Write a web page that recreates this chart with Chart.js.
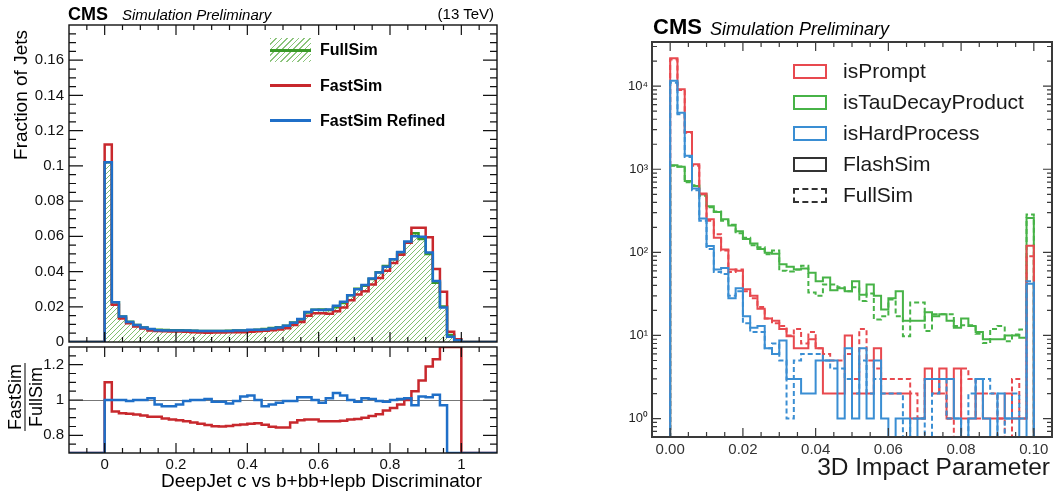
<!DOCTYPE html>
<html>
<head>
<meta charset="utf-8">
<title>FastSim / FlashSim comparison</title>
<script src="https://cdn.jsdelivr.net/npm/chart.js@4.4.1/dist/chart.umd.min.js"></script>
<style>
  body { margin: 0; background: #fff; font-family: "Liberation Sans", Arial, Helvetica, sans-serif; }
  #page { position: relative; width: 1053px; height: 498px; overflow: hidden; background: #fff; }
  canvas { position: absolute; }
  .txt { position: absolute; white-space: nowrap; color: #000; line-height: 20px; }
  .leg-line { position: absolute; height: 3px; }
  .ip-box { position: absolute; width: 34px; height: 15px; box-sizing: border-box; border: 2px solid; }
  .ip-leg { position: absolute; left: 843px; font-size: 21px; line-height: 24px; color: #1a1a1a; white-space: nowrap; }
</style>
</head>
<body>
<div id="page">
  <canvas id="discUpper" width="510" height="352" style="left:0;top:0"></canvas>
  <canvas id="discRatio" width="510" height="158" style="left:0;top:340px"></canvas>
  <canvas id="ipChart" width="453" height="498" style="left:600px;top:0"></canvas>

  <!-- left panel texts -->
  <div class="txt" style="left:68px;top:4px;font-size:18px;font-weight:bold">CMS</div>
  <div class="txt" style="left:122px;top:5px;font-size:15px;font-style:italic">Simulation Preliminary</div>
  <div class="txt" style="right:559px;top:4px;font-size:15px">(13 TeV)</div>
  <div class="txt" style="left:11px;top:230px;width:200px;text-align:right;font-size:19px;transform-origin:0 0;transform:rotate(-90deg)">Fraction of Jets</div>
  <div style="position:absolute;left:25px;top:397px;transform:translate(-50%,-50%) rotate(-90deg);display:inline-flex;flex-direction:column;font-size:18px;line-height:18px;white-space:nowrap">
    <div style="text-align:center;border-bottom:1.5px solid #000;padding:0 1px 1px">FastSim</div>
    <div style="text-align:center;padding-top:1px">FullSim</div>
  </div>
  <div class="txt" style="right:571px;top:471px;font-size:19px">DeepJet c vs b+bb+lepb Discriminator</div>

  <div style="position:absolute;left:270px;top:38px;width:41px;height:24px;background:repeating-linear-gradient(135deg,#8cc47c 0 1px,transparent 1px 4px)"></div>
  <div class="leg-line" style="left:270px;top:49px;width:41px;background:#3a9a28"></div>
  <div class="leg-line" style="left:270px;top:84px;width:41px;background:#c8282d"></div>
  <div class="leg-line" style="left:270px;top:119px;width:41px;background:#1f6fc8"></div>
  <div class="txt" style="left:320px;top:40px;font-size:16px;font-weight:bold">FullSim</div>
  <div class="txt" style="left:320px;top:76px;font-size:16px;font-weight:bold">FastSim</div>
  <div class="txt" style="left:320px;top:111px;font-size:16px;font-weight:bold">FastSim Refined</div>

  <!-- right panel texts -->
  <div class="txt" style="left:653px;top:15px;font-size:22px;line-height:24px;font-weight:bold">CMS</div>
  <div class="txt" style="left:710px;top:17px;font-size:18px;line-height:24px;font-style:italic">Simulation Preliminary</div>
  <div class="ip-box" style="left:793px;top:64px;border-color:#e8494f"></div>
  <div class="ip-box" style="left:793px;top:95px;border-color:#47b347"></div>
  <div class="ip-box" style="left:793px;top:126px;border-color:#3a8ed3"></div>
  <div class="ip-box" style="left:793px;top:157px;border-color:#333"></div>
  <div class="ip-box" style="left:793px;top:188px;border-color:#333;border-style:dashed"></div>
  <div class="ip-leg" style="top:59px">isPrompt</div>
  <div class="ip-leg" style="top:90px">isTauDecayProduct</div>
  <div class="ip-leg" style="top:121px">isHardProcess</div>
  <div class="ip-leg" style="top:152px">FlashSim</div>
  <div class="ip-leg" style="top:183px">FullSim</div>
  <div class="txt" style="right:3px;top:454px;font-size:24.5px;line-height:26px;color:#1a1a1a">3D Impact Parameter</div>
</div>

<script>
// ---- left panel: DeepJet c vs b discriminator, 50 bins in [0, 1] ----
const fullSim = [
  0.1020, 0.0226, 0.0145, 0.0115, 0.0096, 0.0083, 0.0073, 0.0069, 0.0068, 0.0067,
  0.0067, 0.0066, 0.0064, 0.0063, 0.0062, 0.0063, 0.0063, 0.0064, 0.0065, 0.0065,
  0.0067, 0.0070, 0.0074, 0.0079, 0.0084, 0.0092, 0.0111, 0.0128, 0.0167, 0.0183,
  0.0185, 0.0182, 0.0198, 0.0222, 0.0266, 0.0303, 0.0320, 0.0358, 0.0396, 0.0431,
  0.0470, 0.0508, 0.0564, 0.0618, 0.0585, 0.0500, 0.0337, 0.0202, 0.0040, 0.0012
];
const fastSim = [
  0.1122, 0.0211, 0.0134, 0.0106, 0.0088, 0.0076, 0.0066, 0.0062, 0.0061, 0.0060,
  0.0059, 0.0058, 0.0056, 0.0054, 0.0053, 0.0054, 0.0054, 0.0055, 0.0056, 0.0056,
  0.0058, 0.0061, 0.0064, 0.0067, 0.0071, 0.0078, 0.0097, 0.0113, 0.0149, 0.0163,
  0.0163, 0.0160, 0.0174, 0.0196, 0.0237, 0.0270, 0.0288, 0.0326, 0.0364, 0.0405,
  0.0449, 0.0495, 0.0564, 0.0649, 0.0649, 0.0595, 0.0414, 0.0285, 0.0058, 0.0015
];
const fastSimRefined = [
  0.1020, 0.0226, 0.0145, 0.0114, 0.0096, 0.0083, 0.0074, 0.0067, 0.0066, 0.0065,
  0.0065, 0.0066, 0.0064, 0.0063, 0.0062, 0.0062, 0.0062, 0.0063, 0.0065, 0.0066,
  0.0069, 0.0070, 0.0071, 0.0077, 0.0083, 0.0092, 0.0110, 0.0130, 0.0170, 0.0183,
  0.0182, 0.0184, 0.0206, 0.0228, 0.0266, 0.0300, 0.0323, 0.0360, 0.0394, 0.0427,
  0.0470, 0.0511, 0.0570, 0.0600, 0.0597, 0.0508, 0.0347, 0.0196, 0.0030, 0.0010
];
// ratio panel (FastSim / FullSim)
const ratioFastSim = [
  1.10, 0.935, 0.925, 0.922, 0.918, 0.912, 0.905, 0.905, 0.895, 0.89,
  0.885, 0.88, 0.872, 0.865, 0.858, 0.852, 0.85, 0.853, 0.858, 0.862,
  0.865, 0.868, 0.86, 0.848, 0.845, 0.845, 0.873, 0.885, 0.89, 0.89,
  0.88, 0.88, 0.88, 0.882, 0.89, 0.892, 0.90, 0.91, 0.92, 0.94,
  0.955, 0.975, 1.00, 1.05, 1.11, 1.19, 1.23, 1.45, 1.6, 2.5
];
const ratioRefined = [
  1.00, 1.00, 1.00, 0.995, 1.00, 1.00, 1.01, 0.975, 0.965, 0.965,
  0.975, 0.995, 1.00, 1.00, 1.005, 0.99, 0.99, 0.98, 0.995, 1.02,
  1.025, 1.00, 0.965, 0.975, 0.985, 0.995, 0.995, 1.015, 1.015, 1.00,
  0.985, 1.01, 1.04, 1.025, 1.00, 0.99, 1.01, 1.005, 0.995, 0.99,
  1.00, 1.005, 1.01, 0.97, 1.02, 1.015, 1.03, 0.97, 0, 0
];
const discYTicks = [0, 0.02, 0.04, 0.06, 0.08, 0.1, 0.12, 0.14, 0.16];
const ratioYTicks = [0.8, 1, 1.2];
const discXTicks = [0, 0.2, 0.4, 0.6, 0.8, 1];

// ---- right panel: 3D impact parameter, 50 bins in [0, 0.1] ----
const promptFlash = [
  21600, 9200, 2800, 1150, 510, 250, 150, 108, 62, 60, 36, 30, 21, 16, 15, 12, 9.8,
  7, 7, 9, 7, 2, 2, 2, 10, 2, 2, 2, 7,
  2, 2, 2, 2, 1, 1, 4, 2, 4, 1, 4, 1, 1, 2, 1, 1, 1, 2, 1, 1,
  120
];
const promptFull = [
  21000, 9000, 2750, 1100, 500, 240, 165, 105, 58, 62, 34, 28, 22, 16, 14, 13, 10,
  12, 8, 11, 7, 6, 5, 5, 6, 3, 12, 5, 4, 3,
  3, 3, 3, 2, 1, 3, 3, 2, 1, 0, 4, 3, 1, 2, 2, 1, 0, 3, 1, 90
];
const tauFlash = [
  1120, 1070, 720, 630, 500, 360, 305, 250, 210, 180, 145, 128, 110, 99, 96, 72,
  67, 62, 64, 57, 45, 50, 35, 37, 34, 45, 31, 41, 30, 20.5,
  28, 34, 15, 15, 15, 19, 17, 18, 15, 12.4, 16, 13, 11, 9, 9, 9, 10, 10, 9.4, 260
];
const tauFull = [
  1100, 1080, 700, 640, 480, 350, 310, 240, 215, 170, 150, 122, 115, 95, 105, 60,
  59, 62, 69, 33, 30, 41, 41, 38, 34, 38, 26, 32,
  15.6, 17, 27, 17, 9.8, 25, 25, 11.3, 18, 18, 18, 13, 13.3, 13.3, 10.5, 8.1, 12, 13, 8.5, 10.3, 11.8, 285
];
const hardFlash = [
  11600, 4800, 1450, 585, 255, 119, 62, 65, 28, 37,
  17, 12.4, 13, 7, 6, 8.7, 3, 3, 2, 2, 5, 5, 5, 1, 7, 1, 7, 1, 5, 1,
  0, 1, 1, 0, 1, 3, 3, 3, 3, 1, 0, 1, 3, 1, 0, 2, 1, 1, 0, 42
];
const hardFull = [
  11000, 4600, 1400, 560, 240, 110, 58, 55, 30, 34,
  14, 11, 11, 7, 8, 5, 1,
  5, 6, 6, 6, 5, 4, 4, 3, 2, 5, 2, 3, 2,
  2, 2, 0, 1, 1, 0, 2, 3, 1, 1, 0, 2, 3, 3, 2, 0, 1, 2, 1, 45
];
const ipXTicks = [0, 0.02, 0.04, 0.06, 0.08, 0.1];
const ipYDecades = [1, 10, 100, 1000, 10000];

const RED = '#c8282d', GREEN = '#3a9a28', BLUE = '#1f6fc8';
const IP_RED = '#e8494f', IP_GREEN = '#47b347', IP_BLUE = '#3a8ed3';
const LOG_FLOOR = 0.3; // empty bins go below the axis minimum
const SUP = { '0': '\u2070', '1': '\u00b9', '2': '\u00b2', '3': '\u00b3', '4': '\u2074' };

Chart.defaults.font.family = '"Liberation Sans", Arial, Helvetica, sans-serif';
Chart.defaults.color = '#111';

// histogram outline as a polyline: each bin gives two points at its edges
function stepPoints(lo, hi, values, base, xFrom, xTo) {
  const w = (hi - lo) / values.length;
  const pts = [];
  if (xFrom !== undefined) pts.push({ x: xFrom, y: base });
  pts.push({ x: lo, y: base });
  values.forEach((v, i) => {
    pts.push({ x: lo + i * w, y: v });
    pts.push({ x: lo + (i + 1) * w, y: v });
  });
  pts.push({ x: hi, y: base });
  if (xTo !== undefined) pts.push({ x: xTo, y: base });
  return pts;
}
const clampRatio = arr => arr.map(v => Math.min(Math.max(v, 0.7), 1.3));
const logSafe = arr => arr.map(v => (v > 0 ? v : LOG_FLOOR));

function multiples(min, max, step) {
  const out = [];
  for (let k = Math.ceil(min / step - 1e-6); k <= Math.floor(max / step + 1e-6); k++) out.push(k * step);
  return out;
}
function logMinors(min, max) {
  const out = [];
  for (let d = Math.floor(Math.log10(min)); d <= Math.ceil(Math.log10(max)); d++) {
    for (let j = 2; j <= 9; j++) {
      const v = j * Math.pow(10, d);
      if (v >= min && v <= max) out.push(v);
    }
  }
  return out;
}

// ROOT-like frame: box plus inward ticks on all four sides
const FRAME = {
  discUpper: { lw: 1.4, color: '#111',
    x: { major: 0.2, minor: 0.05, majLen: 10, minLen: 5 },
    y: { major: 0.02, minor: 0.005, majLen: 14, minLen: 7 } },
  discRatio: { lw: 1.4, color: '#111', ref: 1,
    x: { major: 0.2, minor: 0.05, majLen: 10, minLen: 5 },
    y: { major: 0.2, minor: 0.05, majLen: 14, minLen: 7 } },
  ipChart: { lw: 2, color: '#3a3a3a',
    x: { major: 0.02, minor: 0.005, majLen: 9, minLen: 5 },
    y: { log: true, majLen: 9, minLen: 5 } }
};

const framePlugin = {
  id: 'rootFrame',
  beforeDatasetsDraw(chart) {
    const o = FRAME[chart.canvas.id];
    if (o.ref === undefined) return;
    const { ctx, chartArea: a } = chart;
    const y = Math.round(chart.scales.y.getPixelForValue(o.ref)) + 0.5;
    ctx.save();
    ctx.strokeStyle = '#777';
    ctx.lineWidth = 1;
    ctx.beginPath();
    ctx.moveTo(a.left, y);
    ctx.lineTo(a.right, y);
    ctx.stroke();
    ctx.restore();
  },
  afterDatasetsDraw(chart) {
    const o = FRAME[chart.canvas.id];
    const { ctx, chartArea: a } = chart;
    const xs = chart.scales.x, ys = chart.scales.y;
    ctx.save();
    ctx.strokeStyle = o.color;
    ctx.lineWidth = 1.2;
    ctx.beginPath();
    const xt = [[multiples(xs.min, xs.max, o.x.minor), o.x.minLen], [multiples(xs.min, xs.max, o.x.major), o.x.majLen]];
    xt.forEach(([vals, len]) => vals.forEach(v => {
      const p = xs.getPixelForValue(v);
      if (p < a.left + 1 || p > a.right - 1) return;
      ctx.moveTo(p, a.bottom); ctx.lineTo(p, a.bottom - len);
      ctx.moveTo(p, a.top); ctx.lineTo(p, a.top + len);
    }));
    const yt = o.y.log
      ? [[logMinors(ys.min, ys.max), o.y.minLen], [ipYDecades, o.y.majLen]]
      : [[multiples(ys.min, ys.max, o.y.minor), o.y.minLen], [multiples(ys.min, ys.max, o.y.major), o.y.majLen]];
    yt.forEach(([vals, len]) => vals.forEach(v => {
      const p = ys.getPixelForValue(v);
      if (p < a.top + 1 || p > a.bottom - 1) return;
      ctx.moveTo(a.left, p); ctx.lineTo(a.left + len, p);
      ctx.moveTo(a.right, p); ctx.lineTo(a.right - len, p);
    }));
    ctx.stroke();
    ctx.lineWidth = o.lw;
    ctx.strokeRect(a.left, a.top, a.right - a.left, a.bottom - a.top);
    ctx.restore();
  }
};

const fmt = v => String(Number(v.toFixed(2)));
const baseOptions = () => ({
  responsive: false,
  animation: false,
  events: [],
  elements: { point: { radius: 0 }, line: { tension: 0, borderJoinStyle: 'miter', capBezierPoints: false } },
  plugins: { legend: { display: false }, tooltip: { enabled: false } }
});
const noGrid = { grid: { display: false, drawTicks: false }, border: { display: false } };
// fixed axis size, no extra room for edge labels
const fixY = w => s => { s.width = w; s.paddingTop = 0; s.paddingBottom = 0; };
const fixX = h => s => { s.height = h; s.paddingLeft = 0; s.paddingRight = 0; };

document.addEventListener('DOMContentLoaded', () => {
  // hatched fill for FullSim
  const upperCanvas = document.getElementById('discUpper');
  const tile = document.createElement('canvas');
  tile.width = tile.height = 5;
  const tg = tile.getContext('2d');
  tg.strokeStyle = '#5fae4a';
  tg.lineWidth = 0.8;
  tg.beginPath();
  tg.moveTo(0, 5); tg.lineTo(5, 0);
  tg.moveTo(-2.5, 2.5); tg.lineTo(2.5, -2.5);
  tg.moveTo(2.5, 7.5); tg.lineTo(7.5, 2.5);
  tg.stroke();
  const hatch = upperCanvas.getContext('2d').createPattern(tile, 'repeat');

  new Chart(upperCanvas, {
    type: 'line',
    data: {
      datasets: [
        { label: 'FastSim Refined', data: stepPoints(0, 1, fastSimRefined, 0, -0.1, 1.1), borderColor: BLUE, borderWidth: 2.5, fill: false, order: 1 },
        { label: 'FastSim', data: stepPoints(0, 1, fastSim, 0, -0.1, 1.1), borderColor: RED, borderWidth: 2.5, fill: false, order: 2 },
        { label: 'FullSim', data: stepPoints(0, 1, fullSim, 0, -0.1, 1.1), borderColor: GREEN, borderWidth: 2.5, backgroundColor: hatch, fill: 'origin', order: 3 }
      ]
    },
    options: Object.assign(baseOptions(), {
      layout: { padding: { top: 25, right: 13, left: 0, bottom: 0 } },
      scales: {
        x: Object.assign({ type: 'linear', min: -0.1, max: 1.1, ticks: { display: false }, afterFit: fixX(10) }, noGrid),
        y: Object.assign({ type: 'linear', min: 0, max: 0.18,
          afterBuildTicks: s => { s.ticks = discYTicks.map(v => ({ value: v })); },
          afterFit: fixY(69),
          ticks: { padding: 5, font: { size: 15 }, color: '#111', autoSkip: false, callback: v => fmt(v) } }, noGrid)
      }
    }),
    plugins: [framePlugin]
  });

  new Chart(document.getElementById('discRatio'), {
    type: 'line',
    data: {
      datasets: [
        { label: 'FastSim Refined', data: stepPoints(0, 1, clampRatio(ratioRefined), 0.7, -0.1, 1.1), borderColor: BLUE, borderWidth: 2.5, fill: false, order: 1 },
        { label: 'FastSim', data: stepPoints(0, 1, clampRatio(ratioFastSim), 0.7, -0.1, 1.1), borderColor: RED, borderWidth: 2.5, fill: false, order: 2 }
      ]
    },
    options: Object.assign(baseOptions(), {
      layout: { padding: { top: 7, right: 13, left: 0, bottom: 0 } },
      scales: {
        x: Object.assign({ type: 'linear', min: -0.1, max: 1.1,
          afterBuildTicks: s => { s.ticks = discXTicks.map(v => ({ value: v })); },
          afterFit: fixX(45),
          ticks: { padding: 3, font: { size: 15 }, color: '#111', autoSkip: false, maxRotation: 0, callback: v => fmt(v) } }, noGrid),
        y: Object.assign({ type: 'linear', min: 0.7, max: 1.3,
          afterBuildTicks: s => { s.ticks = ratioYTicks.map(v => ({ value: v })); },
          afterFit: fixY(69),
          ticks: { padding: 5, font: { size: 15 }, color: '#111', autoSkip: false, callback: v => fmt(v) } }, noGrid)
      }
    }),
    plugins: [framePlugin]
  });

  const ipSet = (label, values, color, dashed, order) => ({
    label,
    data: stepPoints(0, 0.1, logSafe(values), LOG_FLOOR),
    borderColor: color,
    borderWidth: 2,
    borderDash: dashed ? [5, 3] : [],
    fill: false,
    order
  });

  new Chart(document.getElementById('ipChart'), {
    type: 'line',
    data: {
      datasets: [
        ipSet('isHardProcess FlashSim', hardFlash, IP_BLUE, false, 1),
        ipSet('isHardProcess FullSim', hardFull, IP_BLUE, true, 2),
        ipSet('isPrompt FlashSim', promptFlash, IP_RED, false, 3),
        ipSet('isPrompt FullSim', promptFull, IP_RED, true, 4),
        ipSet('isTauDecayProduct FlashSim', tauFlash, IP_GREEN, false, 5),
        ipSet('isTauDecayProduct FullSim', tauFull, IP_GREEN, true, 6)
      ]
    },
    options: Object.assign(baseOptions(), {
      layout: { padding: { top: 42, right: 1, left: 0, bottom: 0 } },
      scales: {
        x: Object.assign({ type: 'linear', min: -0.005, max: 0.105,
          afterBuildTicks: s => { s.ticks = ipXTicks.map(v => ({ value: v })); },
          afterFit: fixX(61),
          ticks: { padding: 4, font: { size: 15 }, color: '#333', autoSkip: false, maxRotation: 0, callback: v => v.toFixed(2) } }, noGrid),
        y: Object.assign({ type: 'logarithmic', min: 0.6, max: 34000,
          afterBuildTicks: s => { s.ticks = ipYDecades.map(v => ({ value: v })); },
          afterFit: fixY(52),
          ticks: { padding: 4, font: { size: 13 }, color: '#222', autoSkip: false,
            callback: v => '10' + SUP[String(Math.round(Math.log10(v)))] } }, noGrid)
      }
    }),
    plugins: [framePlugin]
  });
});
</script>
</body>
</html>
